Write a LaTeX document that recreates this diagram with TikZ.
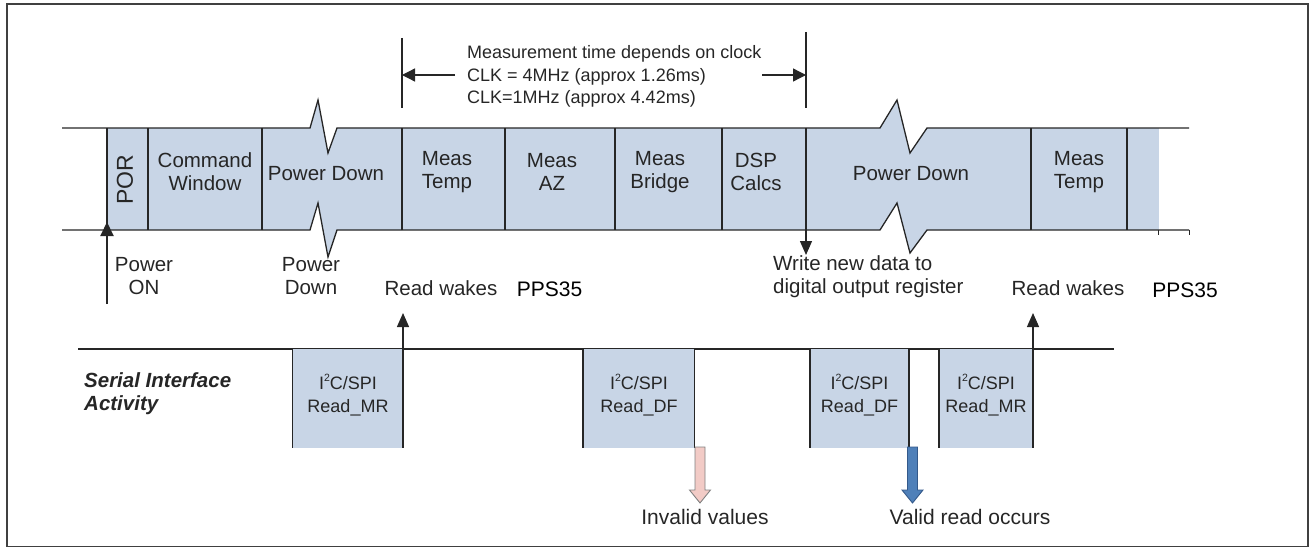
\documentclass[tikz,border=0pt]{standalone}
\usepackage{fontspec}
\setmainfont{Liberation Sans}
\usetikzlibrary{arrows.meta}
\definecolor{blk}{HTML}{C8D5E6}
\definecolor{pinkf}{HTML}{F2CBC6}
\definecolor{bluef}{HTML}{4F80B9}
\definecolor{bluel}{HTML}{34598A}
\definecolor{ink}{HTML}{262626}
\newcommand\mysqr{\raisebox{0.42em}{\fontsize{10.5}{10.5}\selectfont 2}}
\begin{document}
\begin{tikzpicture}[x=1pt,y=-1pt,
  ln/.style={line width=1.3pt, draw=ink},
  tip/.style={-{Triangle[width=12pt,length=14pt]}},
  txt/.style={inner sep=0pt, text=ink, font=\fontsize{20.5}{23}\selectfont, align=center},
  meastxt/.style={inner sep=0pt, text=ink, font=\fontsize{18}{22.5}\selectfont, align=left, anchor=west},
  iotxt/.style={inner sep=0pt, text=ink, font=\fontsize{18}{23}\selectfont, align=center},
  pps/.style={inner sep=0pt, text=black, font=\fontsize{21}{24}\selectfont},
  sertxt/.style={inner sep=0pt, text=ink, font=\fontsize{20.5}{23}\selectfont\bfseries\itshape, align=left, anchor=west},
  restxt/.style={inner sep=0pt, text=ink, font=\fontsize{21}{24}\selectfont}]
\useasboundingbox (0,0) rectangle (1314,548);
\draw[line width=1.5pt, draw=black!75] (7,4) rectangle (1308,546.5);

% ---- block fills
\fill[blk] (107,128) rectangle (262,230);
\fill[blk] (262,128) -- (310,128) -- (318,100) -- (328,153) -- (337,128) -- (402,128)
  -- (402,230) -- (337,230) -- (328,257) -- (318,203) -- (310,230) -- (262,230) -- cycle;
\fill[blk] (402,128) rectangle (806,230);
\fill[blk] (806,128) -- (880,128) -- (897,100) -- (910,153) -- (927,128) -- (1031,128)
  -- (1031,230) -- (927,230) -- (910,253) -- (897,203) -- (880,230) -- (806,230) -- cycle;
\fill[blk] (1031,128) rectangle (1159,230);

% ---- timeline outline
\draw[ln] (62,128) -- (310,128) -- (318,100) -- (328,153) -- (337,128) -- (880,128)
  -- (897,100) -- (910,153) -- (927,128) -- (1189,128);
\draw[ln] (62,230) -- (310,230) -- (318,203) -- (328,257) -- (337,230) -- (880,230)
  -- (897,203) -- (910,253) -- (927,230) -- (1189,230);
\draw[line width=0.8pt, draw=ink] (1158,230) -- (1158,235) (1189,230) -- (1189,235);
\foreach \x in {107,148,262,402,505,615,722,1031,1127}
  \draw[ln] (\x,128) -- (\x,230);

% ---- block labels
\node[txt, rotate=90] (por) at (125,180) {\fontsize{23}{26}\selectfont POR};
\node[txt] (cmd) at (205,172) {Command\\Window};
\node[txt] (pd1) at (326,174) {Power Down};
\node[txt] (mt1) at (447,172) {Meas\\Temp};
\node[txt] (maz) at (552,172) {Meas\\AZ};
\node[txt] (mbr) at (660,172) {Meas\\Bridge};
\node[txt] (dsp) at (756,172) {DSP\\Calcs};
\node[txt] (pd2) at (911,174) {Power Down};
\node[txt] (mt2) at (1079,172) {Meas\\Temp};

% ---- measurement time span
\coordinate (mL) at (402,75);
\coordinate (mR) at (806,75);
\coordinate (mLs) at (455,75);
\coordinate (mRs) at (762,75);
\draw[ln] (402,38) -- (402,108);
\draw[ln] (806,32) -- (806,108);
\draw[ln, -{Triangle[width=13pt,length=13pt]}] (mLs) -- (mL);
\draw[ln, -{Triangle[width=13pt,length=13pt]}] (mRs) -- (mR);
\node[meastxt] (meas) at (467,76.5) {Measurement time depends on clock\\CLK = 4MHz (approx 1.26ms)\\CLK=1MHz (approx 4.42ms)};

% ---- write arrow
\coordinate (wtop) at (806,128);
\coordinate (wtip) at (806,255);
\draw[ln, tip] (wtop) -- (wtip);
\node[txt, align=left, anchor=west] (write) at (773,277) {Write new data to\\digital output register};

% ---- power on
\coordinate (pon0) at (107,304);
\coordinate (pon1) at (107,222);
\draw[line width=2pt, draw=ink, -{Triangle[width=13pt,length=14pt]}] (pon0) -- (pon1);
\node[txt] (pon) at (144,276.5) {Power\\ON};
\node[txt] (pdl) at (311,276.5) {Power\\Down};
\node[txt] (rw1) at (441,288) {Read wakes};
\node[pps] (pps1) at (549.5,289) {PPS35};
\node[txt] (rw2) at (1068,288) {Read wakes};
\node[pps] (pps2) at (1185,290) {PPS35};

% ---- serial interface
\draw[ln] (78,349) -- (1114,349);
\node[sertxt] (ser) at (84,394) {Serial Interface\\Activity};
\fill[blk] (292.5,349) rectangle (403,448);
\fill[blk] (583,349) rectangle (694.5,448);
\fill[blk] (810,349) rectangle (909,448);
\fill[blk] (939,349) rectangle (1033,448);
\foreach \x in {292.5,403,583,694.5,810,909,939,1033}
  \draw[ln] (\x,349) -- (\x,448);
\node[iotxt] (io1) at (348,395) {I\mysqr C/SPI\\Read\_MR};
\node[iotxt] (io2) at (639,395) {I\mysqr C/SPI\\Read\_DF};
\node[iotxt] (io3) at (859.5,395) {I\mysqr C/SPI\\Read\_DF};
\node[iotxt] (io4) at (986,395) {I\mysqr C/SPI\\Read\_MR};

\coordinate (r1a) at (403,349);
\coordinate (r1b) at (403,313);
\coordinate (r2a) at (1033,349);
\coordinate (r2b) at (1033,313);
\draw[ln, tip] (r1a) -- (r1b);
\draw[ln, tip] (r2a) -- (r2b);

% ---- result block arrows
\filldraw[fill=pinkf, draw=black!50, line width=0.9pt]
  (695,447) -- (705,447) -- (705,490) -- (710.5,490) -- (700,503) -- (689.5,490) -- (695,490) -- cycle;
\filldraw[fill=bluef, draw=bluel, line width=0.9pt]
  (907.5,447) -- (917.5,447) -- (917.5,490) -- (923,490) -- (912.5,503) -- (902,490) -- (907.5,490) -- cycle;
\node[restxt] (inv) at (705,517) {Invalid values};
\node[restxt] (val) at (970,517) {Valid read occurs};
\end{tikzpicture}
\end{document}
